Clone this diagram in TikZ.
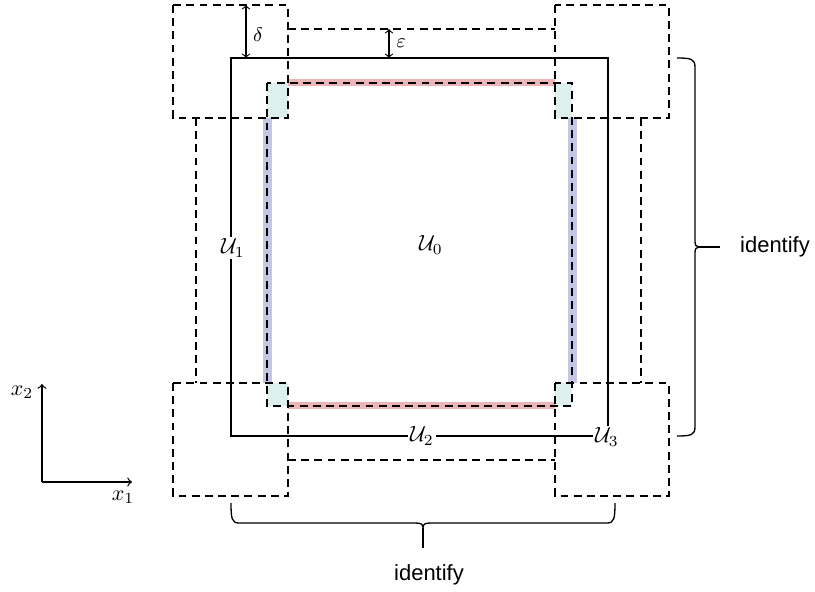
\documentclass[tikz,border=0pt]{standalone}
\usepackage{amsmath}
\usepackage{fontspec}
\newfontfamily\labelfont{Liberation Sans}
\definecolor{stripred}{RGB}{236,182,184}
\definecolor{stripblue}{RGB}{197,197,230}
\definecolor{cornerteal}{RGB}{221,240,238}
\tikzset{
  edge/.style={line width=0.9pt},
  patch/.style={line width=0.9pt,dash pattern=on 3.6pt off 2.4pt},
  gap/.style={<->,line width=0.5pt},
  axis/.style={->,line width=0.6pt},
  tag/.style={fill=white,inner sep=1pt},
  bracepen/.style={line width=0.6pt},
  word/.style={font=\labelfont}
}
\begin{document}
\begin{tikzpicture}[x=0.016cm,y=0.016cm]
  \useasboundingbox (0,0) rectangle (815,592);
  % overlaps of the patches
  \fill[cornerteal] (267,509) rectangle (288,474);
  \fill[cornerteal] (555,509) rectangle (572,474);
  \fill[cornerteal] (267,209) rectangle (288,186);
  \fill[cornerteal] (555,209) rectangle (572,186);
  \fill[stripred] (288,505.5) rectangle (555,512.5);
  \fill[stripred] (288,182.5) rectangle (555,189.5);
  \fill[stripblue] (262.5,474) rectangle (271.5,209);
  \fill[stripblue] (567.5,474) rectangle (576.5,209);

  % corner patches
  \draw[patch] (173,587) rectangle (288,474);
  \draw[patch] (555,587) rectangle (669,474);
  \draw[patch] (173,209) rectangle (288,96);
  \draw[patch] (555,209) rectangle (669,96);
  % inner patch
  \draw[patch] (267,509) rectangle (572,186);
  % side strips
  \draw[patch] (196,474) -- (196,209);
  \draw[patch] (641,474) -- (641,209);
  \draw[patch] (288,563) -- (555,563);
  \draw[patch] (288,132) -- (555,132);
  % unit square
  \draw[edge] (231,534) rectangle (608,156);

  % widths
  \coordinate (dtop) at (246,587);
  \coordinate (dbot) at (246,534);
  \draw[gap] (dtop) -- (dbot);
  \node[font=\small] (delta) at (258,557) {$\delta$};
  \coordinate (etop) at (389,563);
  \coordinate (ebot) at (389,534);
  \draw[gap] (etop) -- (ebot);
  \node[font=\small] (eps) at (401,549) {$\varepsilon$};

  % labels
  \node[tag] (u1) at (233,344) {$\mathcal{U}_1$};
  \node (u0) at (431,347) {$\mathcal{U}_0$};
  \node[tag] (u2) at (422,156) {$\mathcal{U}_2$};
  \node[tag] (u3) at (607,155) {$\mathcal{U}_3$};

  % axes
  \coordinate (orig) at (42,110);
  \coordinate (xend) at (132,110);
  \coordinate (yend) at (42,208);
  \draw[axis] (orig) -- (xend);
  \draw[axis] (orig) -- (yend);
  \node (x1) at (123,95) {$x_1$};
  \node (x2) at (22,200) {$x_2$};

  % identifications
  \draw[bracepen] (677,534) .. controls (691,534) and (695,533) .. (695,525)
    -- (695,351) .. controls (695,347) and (696,345) .. (699,345)
    .. controls (696,345) and (695,343) .. (695,339)
    -- (695,165) .. controls (695,157) and (691,156) .. (677,156);
  \coordinate (rtip) at (699,345);
  \coordinate (rstub) at (720,345);
  \draw[bracepen] (rtip) -- (rstub);
  \node[word] (idright) at (775,345) {identify};
  \draw[bracepen] (231,89) .. controls (231,73) and (232,69) .. (239,69)
    -- (415,69) .. controls (421,69) and (423,68) .. (423,64)
    .. controls (423,68) and (425,69) .. (431,69)
    -- (607,69) .. controls (614,69) and (615,73) .. (615,89);
  \coordinate (btip) at (423,64);
  \coordinate (bstub) at (423,44);
  \draw[bracepen] (btip) -- (bstub);
  \node[word] (idbottom) at (429,17) {identify};
\end{tikzpicture}
\end{document}
